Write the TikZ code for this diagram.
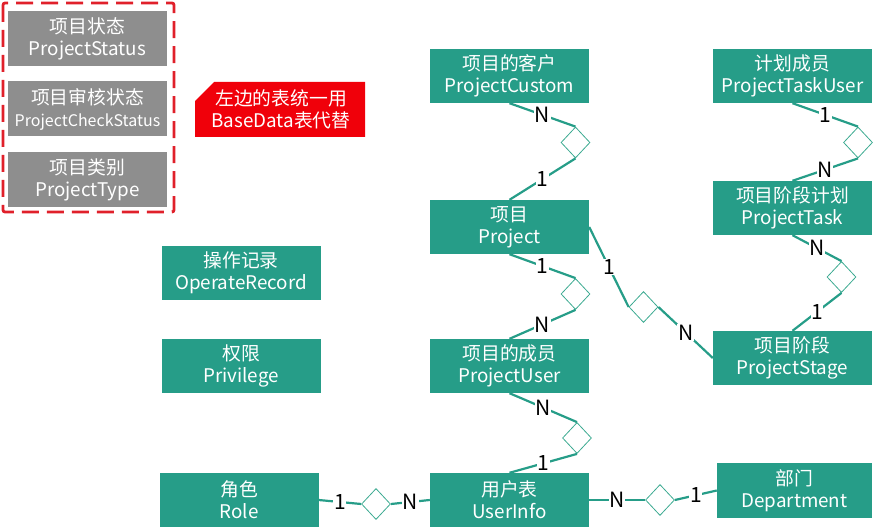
\documentclass[tikz,border=0pt]{standalone}
\usepackage{fontspec}
\setmainfont{Noto Sans CJK SC}
\usetikzlibrary{shapes.geometric}
\definecolor{teal1}{RGB}{38,157,136}
\definecolor{teal2}{RGB}{60,170,145}
\definecolor{gray1}{RGB}{142,142,142}
\definecolor{red1}{RGB}{240,0,10}
\definecolor{red2}{RGB}{224,32,42}
\begin{document}
\begin{tikzpicture}[x=1pt,y=-1pt,
  ent/.style={fill=teal1,text=white,minimum width=159pt,minimum height=54pt,inner sep=0pt,align=center,font=\fontsize{18.8}{22}\selectfont},
  gent/.style={ent,fill=gray1,minimum height=55pt},
  rel/.style={diamond,draw=teal2,line width=0.8pt,minimum width=29pt,minimum height=31pt,inner sep=0pt,aspect=0.94},
  conn/.style={draw=teal1,line width=2.2pt},
  card/.style={fill=white,inner sep=0.6pt,text=black,font=\fontsize{21}{21}\selectfont}
]
\useasboundingbox (0,0) rectangle (879,532);
% left group
\node[gent] (st) at (87.5,39) {项目状态\\ProjectStatus};
\node[gent] (ck) at (87.5,109) {项目审核状态\\{\fontsize{16}{22}\selectfont ProjectCheckStatus}};
\node[gent] (ty) at (87.5,179.5) {项目类别\\ProjectType};
\draw[red2,line width=2.8pt,dash pattern=on 17pt off 8pt,rounded corners=2pt] (3,3) rectangle (174,212);
% callout
\fill[red1] (195,101) -- (214,82) -- (365,82) -- (365,137) -- (195,137) -- cycle;
\node[text=white,align=center,font=\fontsize{18.8}{22}\selectfont] (note) at (281,109.5) {左边的表统一用\\BaseData表代替};
% entities
\node[ent] (cust) at (509.5,76) {项目的客户\\ProjectCustom};
\node[ent] (tuser) at (792.5,76) {计划成员\\ProjectTaskUser};
\node[ent] (proj) at (509.5,227) {项目\\Project};
\node[ent] (task) at (792.5,208) {项目阶段计划\\ProjectTask};
\node[ent] (puser) at (509.5,366) {项目的成员\\ProjectUser};
\node[ent] (stage) at (792.5,358) {项目阶段\\ProjectStage};
\node[ent] (oper) at (241,273) {操作记录\\OperateRecord};
\node[ent] (priv) at (241,366) {权限\\Privilege};
\node[ent] (role) at (239,500) {角色\\Role};
\node[ent] (user) at (509.5,500) {用户表\\UserInfo};
\node[ent,minimum width=155pt,minimum height=55pt] (dept) at (794.5,490.5) {部门\\Department};
% relationships
\node[rel] (d1) at (575.5,142.5) {};
\node[rel] (d2) at (858,142.5) {};
\node[rel] (d3) at (841.5,277) {};
\node[rel] (d4) at (575.5,294) {};
\node[rel] (d5) at (643.5,307) {};
\node[rel] (d6) at (577,438) {};
\node[rel] (d7) at (376,504) {};
\node[rel] (d8) at (660,500) {};
% connectors
\draw[conn] (cust.south) -- node[card]{N} (d1.north);
\draw[conn] (d1.south) -- node[card]{1} (proj.north);
\draw[conn] (tuser.south) -- node[card]{1} (d2.north);
\draw[conn] (d2.south) -- node[card]{N} (task.north);
\draw[conn] (task.south) -- node[card]{N} (d3.north);
\draw[conn] (d3.south) -- node[card]{1} (stage.north);
\draw[conn] (proj.south) -- node[card]{1} (d4.north);
\draw[conn] (d4.south) -- node[card]{N} (puser.north);
\draw[conn] (proj.east) -- node[card]{1} (d5.west);
\draw[conn] (d5.east) -- node[card]{N} (stage.west);
\draw[conn] (puser.south) -- node[card]{N} (d6.north);
\draw[conn] (d6.south) -- node[card]{1} (user.north);
\draw[conn] (role.east) -- node[card]{1} (d7.west);
\draw[conn] (d7.east) -- node[card]{N} (user.west);
\draw[conn] (user.east) -- node[card]{N} (d8.west);
\draw[conn] (d8.east) -- node[card]{1} (dept.west);
\end{tikzpicture}
\end{document}
